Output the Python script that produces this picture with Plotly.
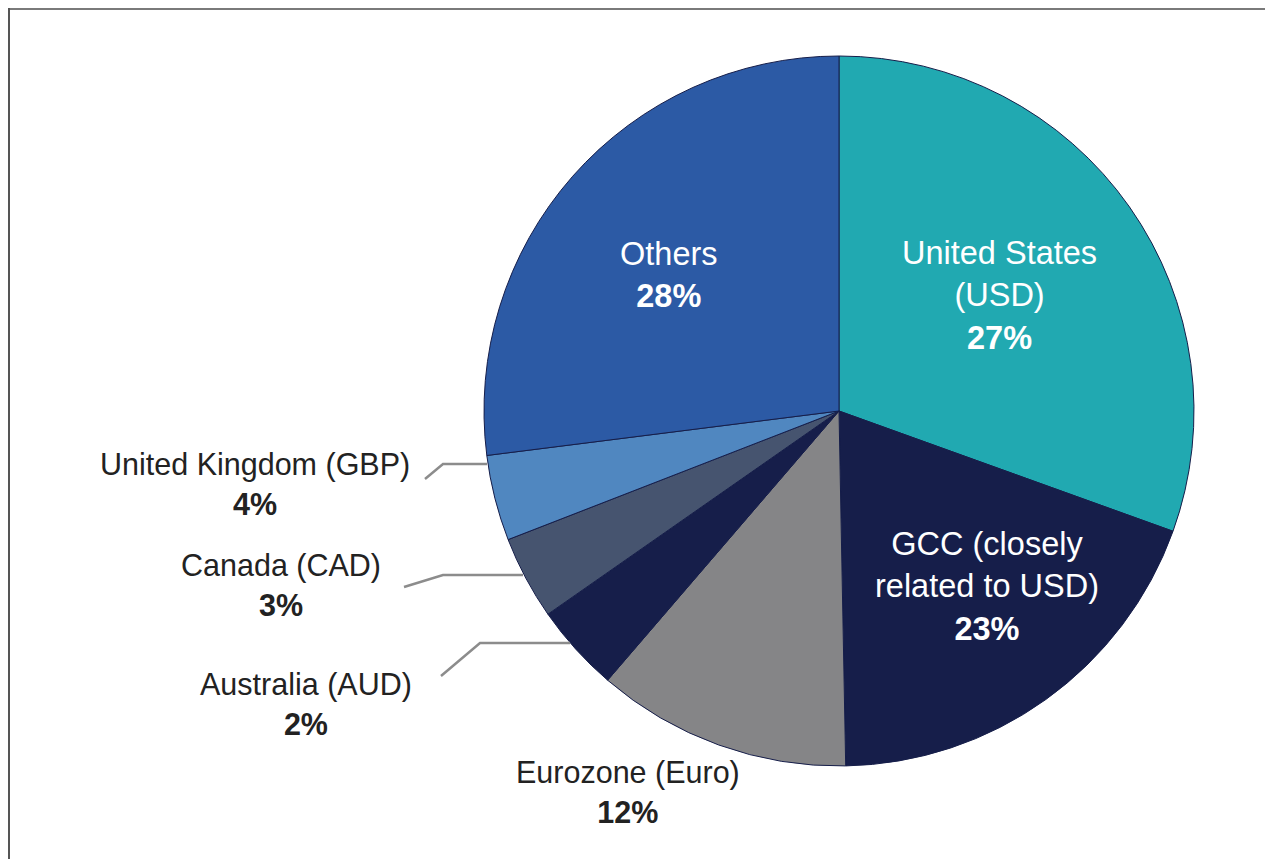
import plotly.graph_objects as go

# page has an 8px body margin; figure sized to fit the window
OFF = 8
W, H = 1273 - OFF, 859 - OFF

# Data (slice shares as drawn, and the printed percentages)
regions = ["United States (USD)", "GCC (closely related to USD)", "Eurozone (Euro)",
           "Australia (AUD)", "Canada (CAD)", "United Kingdom (GBP)", "Others"]
shares = [30.5, 19.2, 11.6, 4.0, 3.8, 3.9, 27.0]
printed_pct = ["27%", "23%", "12%", "2%", "3%", "4%", "28%"]
label_lines = ["United States<br>(USD)", "GCC (closely<br>related to USD)", "Eurozone (Euro)",
               "Australia (AUD)", "Canada (CAD)", "United Kingdom (GBP)", "Others"]
colors = ["#21A9B1", "#161E4A", "#858587", "#161E4A", "#46546F", "#5087C0", "#2C5AA5"]

FONT = "Liberation Sans, Arial, sans-serif"


def px(x):
    return (x - OFF) / W


def py(y):
    return 1 - (y - OFF) / H


cx, cy, r = 839, 411, 355

fig = go.Figure(go.Pie(
    labels=regions, values=shares, sort=False, direction="clockwise", rotation=0,
    marker=dict(colors=colors, line=dict(color="#161E4A", width=1)),
    textinfo="none", hoverinfo="label+percent", showlegend=False,
    domain=dict(x=[px(cx - r), px(cx + r)], y=[py(cy + r), py(cy - r)]),
))

# label placement (pixel centres), colour, font size
label_pos = {
    0: (999, 295, "white", 32.5),
    1: (987, 586, "white", 32.5),
    2: (628, 792, "#222222", 30.5),
    3: (306, 704, "#222222", 30.5),
    4: (281, 585, "#222222", 30.5),
    5: (255, 484, "#222222", 30.5),
    6: (669, 275, "white", 32.5),
}
annotations = []
for i, (x, y, col, fs) in label_pos.items():
    annotations.append(dict(
        x=px(x), y=py(y), xref="paper", yref="paper", xanchor="center", yanchor="middle",
        text=f"{label_lines[i]}<br><b>{printed_pct[i]}</b>", showarrow=False,
        font=dict(family=FONT, size=fs, color=col), align="center",
    ))

# leader lines (pixel polylines)
leaders = [
    [(487, 464), (443, 464), (425, 479)],
    [(523, 575), (443, 575), (404, 587)],
    [(570, 643), (480, 643), (441, 676)],
]
shapes = []
for pts in leaders:
    path = "M " + " L ".join(f"{px(x)},{py(y)}" for x, y in pts)
    shapes.append(dict(type="path", path=path, xref="paper", yref="paper",
                       line=dict(color="#8C8C8C", width=2.5)))

# frame (top and left edges)
shapes.append(dict(type="line", xref="paper", yref="paper", x0=0, x1=1.0, y0=py(9), y1=py(9),
                   line=dict(color="#7A7A7A", width=2)))
shapes.append(dict(type="line", xref="paper", yref="paper", x0=px(9), x1=px(9), y0=py(8), y1=0,
                   line=dict(color="#555555", width=2)))

fig.update_layout(
    width=W, height=H, margin=dict(l=0, r=0, t=0, b=0),
    paper_bgcolor="white", plot_bgcolor="white",
    annotations=annotations, shapes=shapes,
    font=dict(family=FONT),
)

fig.write_html("out.html")
